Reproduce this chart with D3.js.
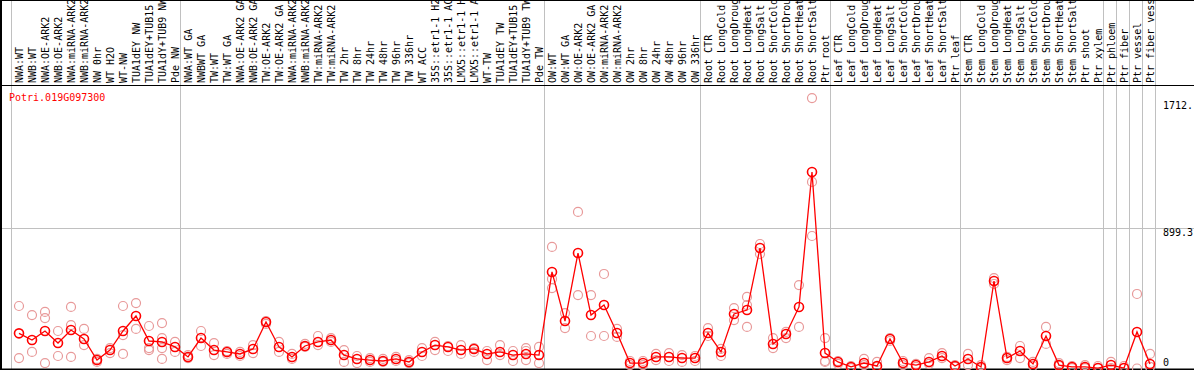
<!DOCTYPE html>
<html>
<head>
<meta charset="utf-8">
<script src="https://cdn.jsdelivr.net/npm/d3@7"></script>
<style>
    body { margin: 0; background: #fff; }
    svg text { font-family: "DejaVu Sans Mono", "Liberation Mono", monospace; font-size: 10px; }
</style>
</head>
<body>
<div id="chart"></div>
<script>
let geneId = "Potri.019G097300";

let categories = [
    "NWA:WT", "NWB:WT", "NWA:OE-ARK2", "NWB:OE-ARK2", "NWA:miRNA-ARK2", "NWB:miRNA-ARK2",
    "NW 0hr", "WT H2O", "WT-NW", "TUA1dEY NW", "TUA1dEY+TUB15", "TUA1dY+TUB9 NW", "Pde NW",
    "NWA:WT GA", "NWBWT GA", "TW:WT", "TW:WT GA", "NWA:OE-ARK2 GA", "NWB:OE-ARK2 GA", "TW:OE-ARK2",
    "TW:OE-ARK2 GA", "NWA:miRNA-ARK2 GA", "NWB:miRNA-ARK2 GA", "TW:miRNA-ARK2", "TW:miRNA-ARK2",
    "TW 2hr", "TW 8hr", "TW 24hr", "TW 48hr", "TW 96hr", "TW 336hr", "WT ACC",
    "35S::etr1-1 H2O", "35S::etr1-1 ACC", "LMX5::etr1-1 H2O", "LMX5::etr1-1 ACC", "WT-TW",
    "TUA1dEY TW", "TUA1dEY+TUB15", "TUA1dY+TUB9 TW", "Pde TW",
    "OW:WT", "OW:WT GA", "OW:OE-ARK2", "OW:OE-ARK2 GA", "OW:miRNA-ARK2", "OW:miRNA-ARK2",
    "OW 2hr", "OW 8hr", "OW 24hr", "OW 48hr", "OW 96hr", "OW 336hr",
    "Root CTR", "Root LongCold", "Root LongDrought", "Root LongHeat", "Root LongSalt",
    "Root ShortCold", "Root ShortDrought", "Root ShortHeat", "Root ShortSalt", "Ptr root",
    "Leaf CTR", "Leaf LongCold", "Leaf LongDrought", "Leaf LongHeat", "Leaf LongSalt",
    "Leaf ShortCold", "Leaf ShortDrought", "Leaf ShortHeat", "Leaf ShortSalt", "Ptr leaf",
    "Stem CTR", "Stem LongCold", "Stem LongDrought", "Stem LongHeat", "Stem LongSalt",
    "Stem ShortCold", "Stem ShortDrought", "Stem ShortHeat", "Stem ShortSalt", "Ptr shoot",
    "Ptr xylem", "Ptr phloem", "Ptr fiber", "Ptr vessel", "Ptr fiber vessel"
];

// index of the first sample after each separator line
let groupBreaks = [13, 41, 53, 63, 73, 84, 85, 86, 87, 88];

let means = [
    225, 182, 240, 163, 246, 189, 54, 118, 240, 336, 176, 170, 138,
    74, 195, 118, 106, 93, 125, 298, 138, 74, 144, 170, 182, 86, 61, 54, 48, 61, 42, 106,
    150, 138, 118, 125, 93, 106, 86, 93, 86,
    618, 304, 739, 342, 406, 227, 35, 35, 74, 74, 67, 67,
    227, 106, 349, 374, 771, 157, 221, 394, 1258, 99,
    42, 10, 35, 16, 189, 35, 22, 42, 80, 16,
    61, 10, 560, 67, 112, 29, 208, 22, 10, 10, 3,
    22, 3, 234, 29
];

let reps = [
    [400, 67], [342, 106], [362, 323, 35], [240, 80], [394, 278, 74], [253, 150],
    [61, 42], [131, 99], [400, 214, 93], [419, 253], [272, 131, 118], [291, 195, 131, 61], [170, 106],
    [86, 67], [240, 144], [163, 86], [112, 93], [106, 80], [150, 99], [304, 285], [170, 106],
    [93, 61], [157, 138], [208, 150], [195, 170], [118, 42], [80, 35], [67, 42], [61, 42],
    [74, 48], [54, 35], [131, 80], [170, 118], [144, 112], [150, 93], [131, 106], [112, 54],
    [150, 86], [112, 48], [131, 112, 54], [138, 35],
    [778, 573, 515], [355, 259], [1002, 470], [470, 208], [605, 208], [253, 202],
    [48, 22], [48, 22], [93, 54], [99, 48], [86, 42], [80, 48],
    [259, 208], [125, 80], [387, 310], [458, 266, 406], [797, 733], [195, 131],
    [234, 195], [534, 266], [1731, 1194, 848], [195, 48, 42],
    [48, 29], [16, 3], [61, 22], [42, 10], [195, 176], [48, 22], [29, 10], [67, 29], [99, 67], [22, 10],
    [93, 22], [22, 3], [579, 541], [74, 54], [144, 67], [42, 16], [266, 157], [35, 16], [16, 3], [22, 3], [16, 3],
    [42, 3], [16, 3], [477, 0], [93, 10]
];

let yTicks = [0, 899.3, 1712];
let yTickLabels = ["0", "899.3", "1712."];

(function () {
    let width = 1194, height = 370,
        plotTop = 85, plotBottom = 369;

    let svg = d3.select('#chart').append('svg')
        .attr('width', width)
        .attr('height', height);

    let x = d3.scaleBand()
        .domain(d3.range(categories.length))
        .range([11, 1155]);

    let y = d3.scaleLinear()
        .domain([0, 1798.6])
        .range([368.5, 87.5]);

    let cx = i => x(i) + 8;
    let edge = k => k < categories.length ? x(k) : x.range()[1];

    // grey separators, full height
    svg.selectAll('line.sep')
        .data([0].concat(groupBreaks))
        .enter().append('line')
        .attr('x1', d => edge(d) + 0.5)
        .attr('x2', d => edge(d) + 0.5)
        .attr('y1', 0)
        .attr('y2', height)
        .style('stroke', '#c0c0c0')
        .style('stroke-width', 1);

    // middle grid line
    svg.append('line')
        .attr('x1', 0).attr('x2', width)
        .attr('y1', Math.round(y(yTicks[1])) + 0.5)
        .attr('y2', Math.round(y(yTicks[1])) + 0.5)
        .style('stroke', '#c0c0c0');

    // black frame lines
    [0.5, plotTop + 0.5, plotBottom + 0.5].forEach(v => {
        svg.append('line')
            .attr('x1', 0).attr('x2', width)
            .attr('y1', v).attr('y2', v)
            .style('stroke', '#000')
            .style('stroke-width', v > 300 ? 2 : 1);
    });
    svg.append('line')
        .attr('x1', 1).attr('x2', 1)
        .attr('y1', 0).attr('y2', height)
        .style('stroke', '#000')
        .style('stroke-width', 2);

    // sample labels, rotated (long ones run off the top, as in the source)
    svg.append('g')
        .selectAll('text')
        .data(categories)
        .enter().append('text')
        .attr('transform', (d, i) => 'translate(' + (cx(i) + 0.5) + ',' + (plotTop - 2) + ') rotate(-90)')
        .attr('dy', '0.35em')
        .style('fill', '#000')
        .text(d => d);

    // gene id
    svg.append('text')
        .attr('x', 9)
        .attr('y', 101)
        .style('fill', '#ff0000')
        .text(geneId);

    // right side value labels
    svg.append('g')
        .selectAll('text')
        .data(yTicks)
        .enter().append('text')
        .attr('x', 1163)
        .attr('y', d => d === 0 ? y(d) - 3 : y(d) + 8)
        .style('fill', '#000')
        .text((d, i) => yTickLabels[i]);

    // replicate points
    let repPoints = [];
    reps.forEach((r, i) => r.forEach(v => repPoints.push({i: i, v: v})));

    svg.append('g')
        .selectAll('circle')
        .data(repPoints)
        .enter().append('circle')
        .attr('cx', d => cx(d.i))
        .attr('cy', d => y(d.v))
        .attr('r', 4.5)
        .style('fill', 'none')
        .style('stroke', '#e89a9a')
        .style('stroke-width', 1.2);

    let line = d3.line()
        .x((d, i) => cx(i))
        .y(d => y(d));

    svg.append('path')
        .datum(means)
        .attr('d', line)
        .style('fill', 'none')
        .style('stroke', '#ff0000')
        .style('stroke-width', 1.3);

    svg.append('g')
        .selectAll('circle')
        .data(means)
        .enter().append('circle')
        .attr('cx', (d, i) => cx(i))
        .attr('cy', d => y(d))
        .attr('r', 4.5)
        .style('fill', 'none')
        .style('stroke', '#ff0000')
        .style('stroke-width', 1.6);
})();
</script>
</body>
</html>
